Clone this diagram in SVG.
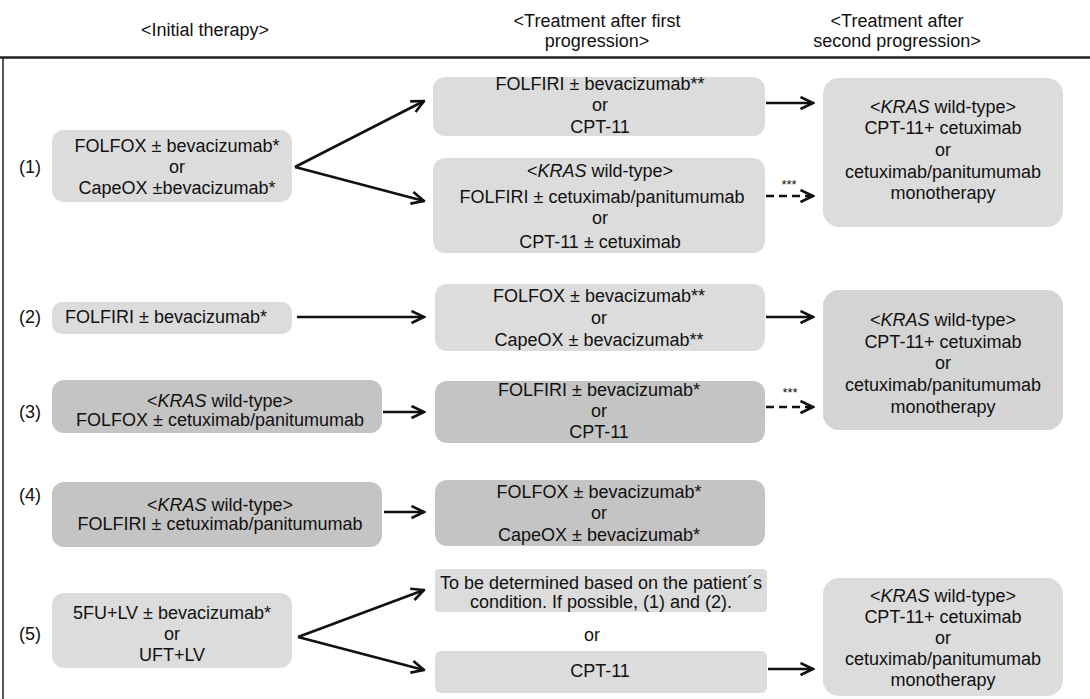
<svg xmlns="http://www.w3.org/2000/svg" width="1090" height="699" viewBox="0 0 1090 699">
<style>
text{font-family:"Liberation Sans",Arial,sans-serif;font-size:18px;fill:#111;text-anchor:middle}
.st{font-size:13px}
.lt{fill:#dcdcdc}
.dk{fill:#c4c4c4}
.md{fill:#d4d4d4}
.ln{stroke:#111;stroke-width:2.6;fill:none}
.dl{stroke:#111;stroke-width:2.6;fill:none;stroke-dasharray:8 5}
</style>
<defs>
<marker id="ah" viewBox="0 0 15 15" refX="13.5" refY="7.5" markerWidth="15" markerHeight="15" markerUnits="userSpaceOnUse" orient="auto">
<path d="M1,1.5 L13.5,7.5 L1,13.5" fill="none" stroke="#111" stroke-width="2.6"/>
</marker>
</defs>
<rect width="1090" height="699" fill="#fff"/>
<g id="header">
<text x="205" y="36">&lt;Initial therapy&gt;</text>
<text x="597" y="27">&lt;Treatment after first</text>
<text x="597" y="47">progression&gt;</text>
<text x="897" y="27">&lt;Treatment after</text>
<text x="897" y="47">second progression&gt;</text>
</g>
<g id="frame">
<line x1="0" y1="57.5" x2="1090" y2="57.5" stroke="#222" stroke-width="2.5"/>
<line x1="3" y1="57" x2="3" y2="699" stroke="#222" stroke-width="1.5"/>
</g>
<g id="labels">
<text x="30" y="173">(1)</text>
<text x="30" y="323">(2)</text>
<text x="30" y="418">(3)</text>
<text x="30" y="501">(4)</text>
<text x="30" y="640">(5)</text>
</g>
<g id="r1-initial">
<rect class="lt" x="52" y="130" width="240" height="72" rx="12"/>
<text x="177" y="152">FOLFOX ± bevacizumab*</text>
<text x="177" y="173">or</text>
<text x="177" y="194">CapeOX ±bevacizumab*</text>
</g>
<g id="r1-first-a">
<rect class="lt" x="433" y="77" width="332" height="59" rx="12"/>
<text x="600" y="90">FOLFIRI ± bevacizumab**</text>
<text x="600" y="111">or</text>
<text x="600" y="133">CPT-11</text>
</g>
<g id="r1-first-b">
<rect class="lt" x="433" y="158" width="332" height="95" rx="12"/>
<text x="600" y="177">&lt;<tspan font-style="italic">KRAS</tspan> wild-type&gt;</text>
<text x="602" y="203">FOLFIRI ± cetuximab/panitumumab</text>
<text x="600" y="224">or</text>
<text x="600" y="248">CPT-11 ± cetuximab</text>
</g>
<g id="r1-second">
<rect class="lt" x="823" y="78" width="240" height="149" rx="16"/>
<text x="943" y="113">&lt;<tspan font-style="italic">KRAS</tspan> wild-type&gt;</text>
<text x="943" y="134">CPT-11+ cetuximab</text>
<text x="943" y="156">or</text>
<text x="943" y="178">cetuximab/panitumumab</text>
<text x="943" y="199">monotherapy</text>
</g>
<g id="r2-initial">
<rect class="lt" x="52" y="302" width="240" height="32" rx="10"/>
<text x="166" y="323">FOLFIRI ± bevacizumab*</text>
</g>
<g id="r2-first">
<rect class="lt" x="435" y="284" width="330" height="67" rx="12"/>
<text x="599" y="302">FOLFOX ± bevacizumab**</text>
<text x="599" y="324">or</text>
<text x="599" y="346">CapeOX ± bevacizumab**</text>
</g>
<g id="r23-second">
<rect class="md" x="823" y="290" width="240" height="140" rx="16"/>
<text x="943" y="326">&lt;<tspan font-style="italic">KRAS</tspan> wild-type&gt;</text>
<text x="943" y="348">CPT-11+ cetuximab</text>
<text x="943" y="369">or</text>
<text x="943" y="391">cetuximab/panitumumab</text>
<text x="943" y="413">monotherapy</text>
</g>
<g id="r3-initial">
<rect class="dk" x="52" y="380" width="330" height="53" rx="12"/>
<text x="220" y="407">&lt;<tspan font-style="italic">KRAS</tspan> wild-type&gt;</text>
<text x="220" y="426">FOLFOX ± cetuximab/panitumumab</text>
</g>
<g id="r3-first">
<rect class="dk" x="435" y="381" width="330" height="62" rx="12"/>
<text x="599" y="396">FOLFIRI ± bevacizumab*</text>
<text x="599" y="417">or</text>
<text x="599" y="438">CPT-11</text>
</g>
<g id="r4-initial">
<rect class="dk" x="52" y="482" width="330" height="65" rx="12"/>
<text x="220" y="511">&lt;<tspan font-style="italic">KRAS</tspan> wild-type&gt;</text>
<text x="220" y="530">FOLFIRI ± cetuximab/panitumumab</text>
</g>
<g id="r4-first">
<rect class="dk" x="435" y="480" width="330" height="66" rx="12"/>
<text x="599" y="498">FOLFOX ± bevacizumab*</text>
<text x="599" y="519">or</text>
<text x="599" y="541">CapeOX ± bevacizumab*</text>
</g>
<g id="r5-initial">
<rect class="lt" x="52" y="593" width="240" height="75" rx="12"/>
<text x="172" y="619">5FU+LV ± bevacizumab*</text>
<text x="172" y="640">or</text>
<text x="172" y="661">UFT+LV</text>
</g>
<g id="r5-first-a">
<rect class="lt" x="435" y="569" width="332" height="43" rx="4"/>
<text x="601" y="589">To be determined based on the patient´s</text>
<text x="601" y="608">condition. If possible, (1) and (2).</text>
</g>
<g id="r5-or">
<text x="592" y="641">or</text>
</g>
<g id="r5-first-b">
<rect class="lt" x="435" y="651" width="332" height="42" rx="6"/>
<text x="600" y="677">CPT-11</text>
</g>
<g id="r5-second">
<rect class="lt" x="823" y="578" width="240" height="118" rx="16"/>
<text x="943" y="602">&lt;<tspan font-style="italic">KRAS</tspan> wild-type&gt;</text>
<text x="943" y="623">CPT-11+ cetuximab</text>
<text x="943" y="644">or</text>
<text x="943" y="665">cetuximab/panitumumab</text>
<text x="943" y="686">monotherapy</text>
</g>
<g id="connectors">
<line class="ln" x1="295" y1="167" x2="424" y2="101" marker-end="url(#ah)"/>
<line class="ln" x1="295" y1="167" x2="424" y2="201" marker-end="url(#ah)"/>
<line class="ln" x1="766" y1="103" x2="813" y2="103" marker-end="url(#ah)"/>
<line class="dl" x1="766" y1="196" x2="813" y2="196" marker-end="url(#ah)"/>
<text class="st" x="789" y="189">***</text>
<line class="ln" x1="297" y1="317" x2="424" y2="317" marker-end="url(#ah)"/>
<line class="ln" x1="766" y1="317" x2="813" y2="317" marker-end="url(#ah)"/>
<line class="ln" x1="383" y1="412" x2="424" y2="412" marker-end="url(#ah)"/>
<line class="dl" x1="766" y1="407" x2="813" y2="407" marker-end="url(#ah)"/>
<text class="st" x="790" y="397">***</text>
<line class="ln" x1="384" y1="512" x2="424" y2="512" marker-end="url(#ah)"/>
<line class="ln" x1="298" y1="637" x2="424" y2="590" marker-end="url(#ah)"/>
<line class="ln" x1="298" y1="637" x2="424" y2="670" marker-end="url(#ah)"/>
<line class="ln" x1="768" y1="669" x2="813" y2="669" marker-end="url(#ah)"/>
</g>
</svg>
